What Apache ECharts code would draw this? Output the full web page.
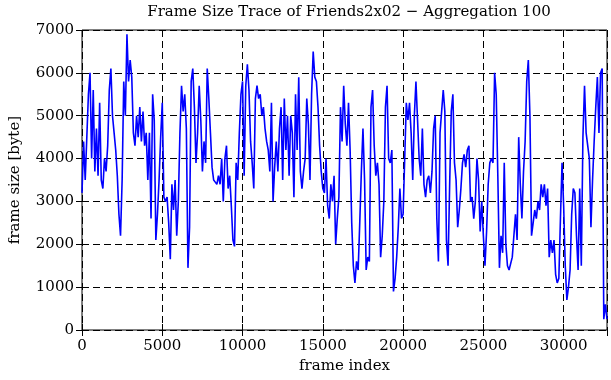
<!DOCTYPE html>
<html>
<head>
<meta charset="utf-8">
<script src="https://cdn.jsdelivr.net/npm/echarts@6/dist/echarts.min.js"></script>
<style>html,body{margin:0;padding:0;background:#fff}#c{width:611px;height:380px}</style>
</head>
<body>
<div id="c"></div>
<script>
// Aggregation step (frames per plotted point)
var aggregation = 100;
// Frame size per aggregated block [byte]
var frameSizes = [
3200,4400,3500,4500,5500,6000,4000,5600,3700,4700,
3600,5300,3500,3300,4000,3700,4300,5600,6100,5000,
4600,4200,3600,2700,2200,3500,5800,5000,6900,5800,
6300,5900,4600,4300,5000,4500,5200,4400,5100,4300,
4600,3500,4600,2600,5500,4900,2100,2700,3500,4500,
5300,3100,3000,3100,2500,1650,3400,2800,3500,2200,
3000,4600,5700,5100,5500,4700,1450,2400,5800,6100,
5200,3900,4600,5700,4900,3700,4400,3900,6100,5400,
4600,3800,3500,3450,3400,3600,3400,4000,3000,4000,
4300,3300,3600,2900,2100,1950,3900,3500,4600,5500,
5800,3600,5700,6200,5600,4400,3900,3300,5400,5700,
5400,5500,5000,5200,4700,4400,4200,3700,5300,3000,
3800,4400,3700,4700,5200,3500,5400,4200,5000,3600,
5000,4600,3100,5500,4200,5900,3700,3300,3700,4000,
5400,4800,3500,5500,6500,5900,5800,5200,4300,3700,
3300,3200,4000,2900,2600,3400,3000,3600,2000,2600,
3100,5200,4400,5700,4800,4300,5300,4200,2500,1500,
1100,1600,1400,2500,3700,4700,3500,1400,1700,1600,
5200,5600,4300,3600,3900,3400,1700,2200,3000,5200,
5700,4000,3900,4200,900,1200,1700,2400,3300,2600,
2700,4000,5300,4900,5300,4600,3500,5000,5800,4900,
4000,3600,4700,3400,3100,3500,3600,3200,3700,4700,
5000,2600,1600,4600,5100,5600,5100,2100,1500,3400,
5100,5500,3900,3500,2400,2800,3300,3900,4100,3800,
4200,4300,3000,3100,2600,3000,4000,3500,2300,3000,
2200,1500,2300,3400,3900,4000,3900,6000,5500,3600,
1450,2200,1800,3900,2000,1500,1400,1400,1700,2200,
2700,2100,4500,3400,2600,3700,4400,5800,6300,5000,
2200,2500,2800,2600,3000,2800,3400,3100,3400,2900,
3300,1700,2100,1800,2100,1300,1100,1200,2600,3900,
2900,1500,700,1000,1400,2700,3300,3200,2200,1400,
3300,1500,4500,5700,4600,4600,4000,2400,3500,4400,
5200,5900,4600,6000,6100,250,600,250
];
var xTicks = [0, 5000, 10000, 15000, 20000, 25000, 30000];
var yTicks = [0, 1000, 2000, 3000, 4000, 5000, 6000, 7000];
var xMax = 32700;

var points = frameSizes.map(function (v, i) { return [i * aggregation, v]; });
var font = {fontFamily: 'DejaVu Serif', fontSize: 15, color: '#000'};
var dash = {type: [7, 4], color: '#000', width: 1};

function xAx(pos, main) {
  return {
    type: 'value', position: pos, min: 0, max: xMax, interval: xTicks[1] - xTicks[0],
    axisLine: {show: false},
    axisTick: {show: true, inside: true, length: 6, lineStyle: {color: '#000', width: 1}},
    axisLabel: main ? Object.assign({show: true, margin: 9, showMaxLabel: false,
      formatter: function (v) { return xTicks.indexOf(v) >= 0 ? String(v) : ''; }}, font) : {show: false},
    splitLine: {show: main, lineStyle: dash},
    name: main ? 'frame index' : '', nameLocation: 'middle', nameGap: 29,
    nameTextStyle: font
  };
}
function yAx(pos, main) {
  return {
    type: 'value', position: pos, min: 0, max: yTicks[yTicks.length - 1], interval: yTicks[1] - yTicks[0],
    axisLine: {show: false},
    axisTick: {show: true, inside: true, length: 6, lineStyle: {color: '#000', width: 1}},
    axisLabel: main ? Object.assign({show: true, margin: 8,
      formatter: function (v) { return String(v); }}, font) : {show: false},
    splitLine: {show: main, lineStyle: dash},
    name: main ? 'frame size [byte]' : '', nameLocation: 'middle', nameGap: 59,
    nameTextStyle: font
  };
}

var chart = echarts.init(document.getElementById('c'), null, {renderer: 'canvas'});
chart.setOption({
  animation: false,
  backgroundColor: '#fff',
  title: {
    text: 'Frame Size Trace of Friends2x02 \u2212 Aggregation 100',
    left: 344, top: 0, textAlign: 'center',
    textStyle: {fontFamily: 'DejaVu Serif', fontSize: 15, fontWeight: 'normal', color: '#000'}
  },
  grid: {left: 80, right: 4, top: 30, bottom: 50, show: true, borderColor: '#000', borderWidth: 1},
  xAxis: [xAx('bottom', true), xAx('top', false)],
  yAxis: [yAx('left', true), yAx('right', false)],
  series: [{
    type: 'line', xAxisIndex: 0, yAxisIndex: 0, data: points,
    showSymbol: false, symbol: 'none',
    lineStyle: {color: '#0000ff', width: 1.6},
    z: 3
  }]
});
</script>
</body>
</html>
